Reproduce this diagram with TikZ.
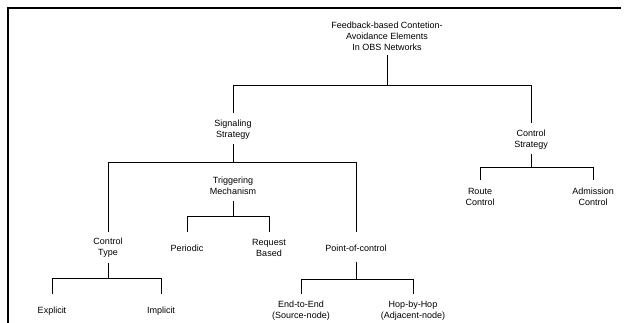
\documentclass[tikz,border=0pt]{standalone}
\usepackage{fontspec}
\setmainfont{Liberation Sans}
\begin{document}
\begin{tikzpicture}[x=1pt,y=1pt,
  lbl/.style={font=\fontsize{9}{11}\selectfont, align=center, inner sep=0pt},
  link/.style={line width=0.7pt},
  stub/.style={line width=1pt},
  frame/.style={line width=2pt}]
\useasboundingbox (0,0) rectangle (631,-323);
% frame
\draw[frame] (8,-323) -- (8,-8) -- (621,-8);
% nodes
\node[lbl] (root) at (387,-36) {Feedback-based Contetion-\\Avoidance Elements\\In OBS Networks};
\node[lbl] (sig) at (233,-129.5) {Signaling\\Strategy};
\node[lbl] (ctrl) at (531,-139.5) {Control\\Strategy};
\node[lbl] (trig) at (233,-185.5) {Triggering\\Mechanism};
\node[lbl] (ctype) at (108,-247.5) {Control\\Type};
\node[lbl] (period) at (187,-248) {Periodic};
\node[lbl] (req) at (269,-247.5) {Request\\Based};
\node[lbl] (poc) at (356,-248) {Point-of-control};
\node[lbl] (expl) at (52,-311) {Explicit};
\node[lbl] (impl) at (161,-311) {Implicit};
\node[lbl] (e2e) at (301,-311) {End-to-End\\(Source-node)};
\node[lbl] (hop) at (413,-311) {Hop-by-Hop\\(Adjacent-node)};
\node[lbl] (route) at (480,-196.5) {Route\\Control};
\node[lbl] (adm) at (593,-196.5) {Admission\\Control};
% bus coordinates
\coordinate (b0) at (387,-85);
\coordinate (e0) at (0,-113);
\coordinate (e0r) at (0,-123);
\coordinate (b1) at (233,-162);
\coordinate (e1) at (0,-232);
\coordinate (b2) at (233,-216);
\coordinate (e2) at (0,-232);
\coordinate (b3) at (108,-278);
\coordinate (e3) at (0,-294);
\coordinate (b4) at (356,-279);
\coordinate (e4) at (0,-294);
\coordinate (b5) at (531,-167);
\coordinate (e5) at (0,-180);
% root
\draw[stub] ([yshift=-4]root.south) -- (root.south |- b0);
\draw[link] (sig.north |- b0) -- (ctrl.north |- b0);
\draw[link] (sig.north |- b0) -- (sig.north |- e0);
\draw[link] (ctrl.north |- b0) -- (ctrl.north |- e0r);
% signaling
\draw[stub] ([yshift=-5]sig.south) -- (sig.south |- b1);
\draw[link] (ctype.north |- b1) -- (poc.north |- b1);
\draw[link] (ctype.north |- b1) -- (ctype.north |- e1);
\draw[link] (poc.north |- b1) -- (poc.north |- e1);
% triggering
\draw[stub] ([yshift=-6]trig.south) -- (trig.south |- b2);
\draw[link] (period.north |- b2) -- (req.north |- b2);
\draw[link] (period.north |- b2) -- (period.north |- e2);
\draw[link] (req.north |- b2) -- (req.north |- e2);
% control type
\draw[stub] ([yshift=-6]ctype.south) -- (ctype.south |- b3);
\draw[link] (expl.north |- b3) -- (impl.north |- b3);
\draw[link] (expl.north |- b3) -- (expl.north |- e3);
\draw[link] (impl.north |- b3) -- (impl.north |- e3);
% point of control
\draw[stub] ([yshift=-10]poc.south) -- (poc.south |- b4);
\draw[link] (e2e.north |- b4) -- (hop.north |- b4);
\draw[link] (e2e.north |- b4) -- (e2e.north |- e4);
\draw[link] (hop.north |- b4) -- (hop.north |- e4);
% control strategy
\draw[stub] ([yshift=-5]ctrl.south) -- (ctrl.south |- b5);
\draw[link] (route.north |- b5) -- (adm.north |- b5);
\draw[link] (route.north |- b5) -- (route.north |- e5);
\draw[link] (adm.north |- b5) -- (adm.north |- e5);
\end{tikzpicture}
\end{document}
